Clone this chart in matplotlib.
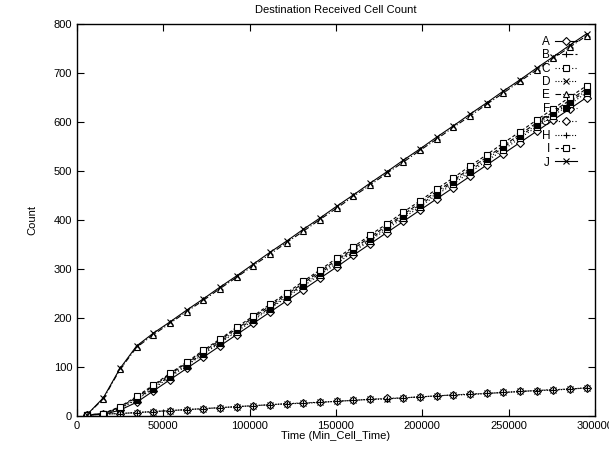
import matplotlib
matplotlib.use("Agg")
import matplotlib.pyplot as plt

# ---- data ----
time = [5600, 15250, 24900, 34550, 44200, 53850, 63500, 73150, 82800, 92450,
        102100, 111750, 121400, 131050, 140700, 150350, 160000, 169650, 179300,
        188950, 198600, 208250, 217900, 227550, 237200, 246850, 256500, 266150,
        275800, 285450, 295100]

cnt_a = [2, 3, 12, 28, 51, 74, 97, 120, 143, 166, 189, 212, 235, 258, 281, 304,
         328, 351, 374, 397, 420, 443, 466, 489, 512, 535, 558, 581, 604, 627, 650]
cnt_b = [2, 5, 18, 38, 61, 85, 108, 131, 155, 178, 201, 225, 248, 271, 295, 318,
         341, 365, 388, 411, 435, 458, 481, 505, 528, 551, 575, 598, 621, 645, 668]
cnt_c = [2, 4, 15, 33, 56, 79, 103, 126, 149, 172, 195, 219, 242, 265, 288, 311,
         335, 358, 381, 404, 427, 451, 474, 497, 520, 543, 567, 590, 613, 636, 660]
cnt_d = [2, 4, 5, 7, 9, 11, 13, 15, 17, 19, 21, 23, 25, 26, 28, 30,
         32, 34, 35, 37, 39, 41, 43, 44, 46, 48, 50, 52, 53, 55, 57]
cnt_e = [2, 35, 95, 140, 166, 189, 213, 236, 260, 283, 307, 330, 354, 377, 401, 424,
         448, 471, 495, 518, 542, 565, 589, 612, 636, 659, 683, 706, 730, 753, 776]
cnt_f = [2, 4, 16, 35, 58, 82, 105, 128, 151, 175, 198, 221, 245, 268, 291, 315,
         338, 361, 385, 408, 431, 454, 478, 501, 524, 548, 571, 594, 618, 641, 664]
cnt_g = [2, 4, 5, 7, 9, 11, 13, 15, 17, 19, 21, 23, 25, 27, 28, 30,
         32, 34, 36, 37, 39, 41, 43, 45, 46, 48, 50, 52, 54, 55, 57]
cnt_h = [2, 4, 5, 7, 9, 11, 13, 15, 17, 19, 21, 23, 25, 26, 28, 30,
         32, 34, 35, 37, 39, 41, 43, 44, 46, 48, 50, 52, 53, 55, 58]
cnt_i = [2, 5, 19, 40, 63, 87, 110, 134, 157, 181, 204, 228, 251, 275, 298, 322,
         345, 369, 392, 416, 439, 463, 486, 510, 533, 557, 580, 604, 627, 651, 674]
cnt_j = [2, 37, 97, 143, 169, 192, 216, 239, 263, 286, 310, 334, 357, 381, 404, 428,
         451, 475, 498, 522, 545, 569, 592, 616, 639, 663, 686, 710, 733, 757, 780]

labels = ["A", "B", "C", "D", "E", "F", "G", "H", "I", "J"]
series = [cnt_a, cnt_b, cnt_c, cnt_d, cnt_e, cnt_f, cnt_g, cnt_h, cnt_i, cnt_j]

# gnuplot-like styles: (marker, linestyle, filled)
styles = [
    ("D", "-", False),
    ("+", (0, (4, 2)), False),
    ("s", (0, (1, 2)), False),
    ("x", (0, (1, 1.5)), False),
    ("^", (0, (5, 2, 1, 2)), False),
    ("s", (0, (3, 2, 1, 2, 1, 2)), True),
    ("D", (0, (1, 2)), False),
    ("+", (0, (1, 1.5)), False),
    ("s", (0, (3, 2)), False),
    ("x", "-", False),
]

plt.rcParams["font.family"] = ["Liberation Sans", "DejaVu Sans"]
plt.rcParams["font.size"] = 8

fig = plt.figure(figsize=(6.09, 4.49), dpi=100)
ax = fig.add_axes([0.1264, 0.0735, 0.8506, 0.873])

for lab, y, (mk, ls, filled) in zip(labels, series, styles):
    ms = 4 if mk == "D" else 5
    if mk == "s" and filled:
        ms = 4
    ax.plot(time, y, color="black", linestyle=ls, linewidth=0.8,
            marker=mk, markersize=ms, markeredgewidth=0.8,
            markerfacecolor="black" if filled else "white",
            markeredgecolor="black", label=lab)

ax.set_xlim(0, 300000)
ax.set_ylim(0, 800)
ax.set_xticks([0, 50000, 100000, 150000, 200000, 250000, 300000])
ax.set_yticks(range(0, 801, 100))
ax.tick_params(direction="in", top=True, right=True, length=5, width=0.8,
               labelsize=8)
for sp in ax.spines.values():
    sp.set_linewidth(1.0)

ax.set_title("Destination Received Cell Count", fontsize=8, pad=8)
ax.set_xlabel("Time (Min_Cell_Time)", fontsize=8, labelpad=0)
ax.set_ylabel("Count", fontsize=8, labelpad=12)

ax.legend(loc="upper right", bbox_to_anchor=(0.977, 0.985), frameon=False,
          markerfirst=False, numpoints=1, handlelength=1.9, handletextpad=0.4,
          labelspacing=0.12, fontsize=8.5, borderpad=0)

fig.savefig("out.png", dpi=100)
